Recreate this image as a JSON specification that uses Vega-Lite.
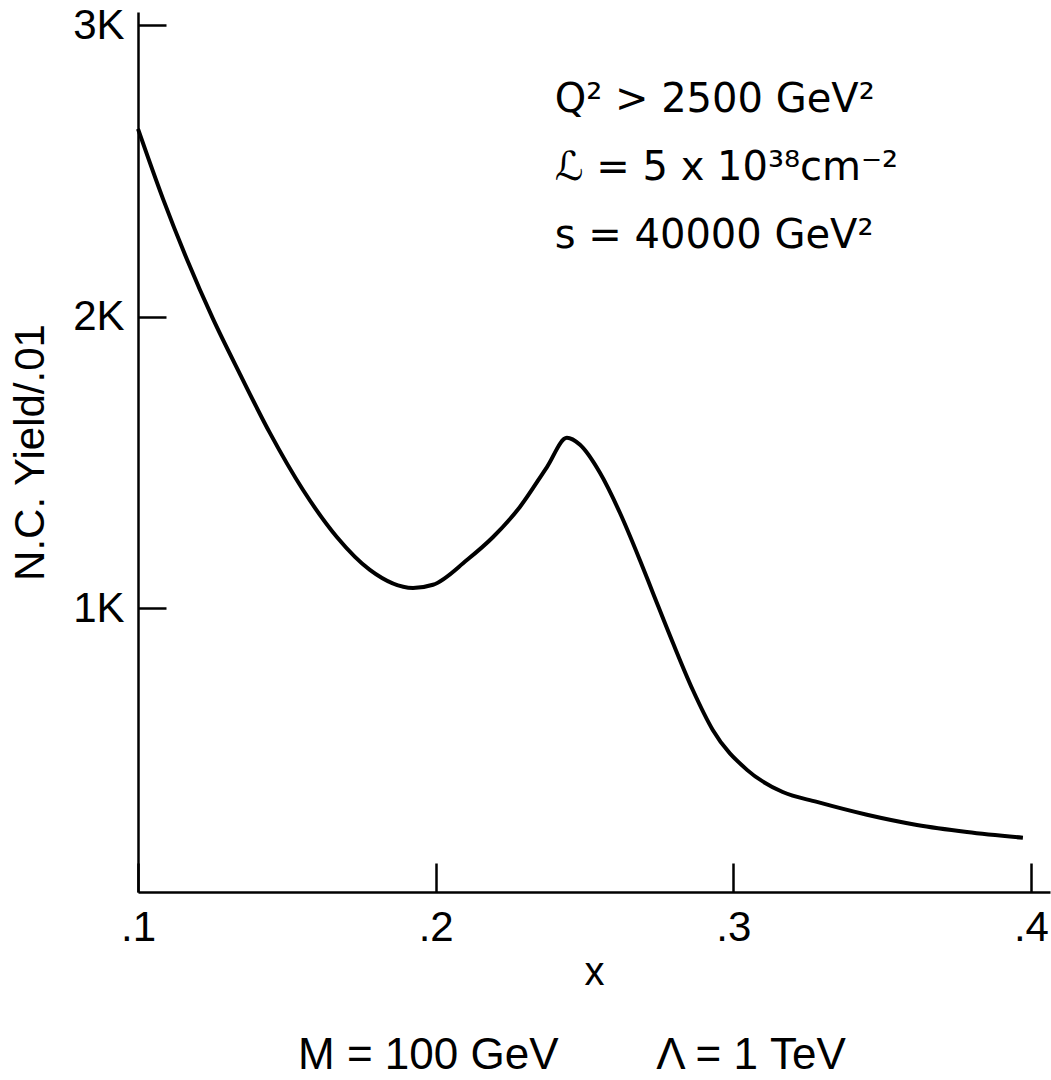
{
  "$schema": "https://vega.github.io/schema/vega-lite/v6.json",
  "width": 912,
  "height": 880,
  "autosize": {"type": "none"},
  "padding": {"left": 138, "top": 12, "right": 1, "bottom": 188},
  "background": "white",
  "config": {
    "view": {"stroke": null},
    "font": "Liberation Sans",
    "axis": {"grid": false, "domainColor": "black", "tickColor": "black", "labelColor": "black", "titleColor": "black", "domainWidth": 2.5, "tickWidth": 2.5, "labelFont": "Liberation Sans", "titleFont": "Liberation Sans", "titleFontWeight": "normal"}
  },
  "title": {
    "text": "M = 100 GeV\u00a0\u00a0\u00a0\u00a0\u00a0\u00a0\u00a0\u00a0Λ = 1 TeV",
    "orient": "bottom",
    "anchor": "middle",
    "fontSize": 44,
    "fontWeight": "normal",
    "font": "Liberation Sans",
    "color": "black",
    "offset": 42,
    "dx": -22
  },
  "datasets": {
    "curve": [
      {"x": 0.1, "y": 2645},
      {"x": 0.1084, "y": 2405},
      {"x": 0.1165, "y": 2196},
      {"x": 0.1252, "y": 1993},
      {"x": 0.1343, "y": 1803},
      {"x": 0.1443, "y": 1602},
      {"x": 0.1554, "y": 1407},
      {"x": 0.1668, "y": 1245},
      {"x": 0.1779, "y": 1132},
      {"x": 0.1924, "y": 1070},
      {"x": 0.1991, "y": 1081},
      {"x": 0.2105, "y": 1166},
      {"x": 0.2193, "y": 1245},
      {"x": 0.2283, "y": 1348},
      {"x": 0.2374, "y": 1485},
      {"x": 0.2441, "y": 1585},
      {"x": 0.2485, "y": 1561},
      {"x": 0.2552, "y": 1465},
      {"x": 0.2619, "y": 1328},
      {"x": 0.2686, "y": 1166},
      {"x": 0.273, "y": 1053},
      {"x": 0.2797, "y": 882},
      {"x": 0.2864, "y": 720},
      {"x": 0.2931, "y": 583},
      {"x": 0.3046, "y": 446},
      {"x": 0.3166, "y": 370},
      {"x": 0.3281, "y": 336},
      {"x": 0.3449, "y": 292},
      {"x": 0.3617, "y": 257},
      {"x": 0.3785, "y": 233},
      {"x": 0.3973, "y": 213}
    ],
    "notes": [
      {"x": 0.24, "y": 2703, "label": "Q² > 2500 GeV²\nℒ = 5 x 10³⁸cm⁻²\ns = 40000 GeV²"}
    ]
  },
  "layer": [
    {
      "data": {"name": "curve"},
      "mark": {"type": "line", "color": "black", "strokeWidth": 4, "interpolate": "monotone"},
      "encoding": {
        "x": {
          "field": "x", "type": "quantitative",
          "scale": {"domain": [0.1, 0.4064], "nice": false, "zero": false},
          "axis": {
            "values": [0.1, 0.2, 0.3, 0.4],
            "tickSize": -29,
            "labelPadding": 44,
            "labelFlush": false,
            "labelFontSize": 42,
            "labelExpr": "replace(format(datum.value, '.1f'), '0.', '.')",
            "title": "x",
            "titleFontSize": 40,
            "titlePadding": 4
          }
        },
        "y": {
          "field": "y", "type": "quantitative",
          "scale": {"domain": [27, 3046], "nice": false, "zero": false},
          "axis": {
            "values": [1000, 2000, 3000],
            "tickSize": -28,
            "labelPadding": 42,
            "labelFlush": false,
            "labelFontSize": 42,
            "labelExpr": "format(datum.value / 1000, 'd') + 'K'",
            "title": "N.C. Yield/.01",
            "titleFontSize": 42,
            "titlePadding": 20
          }
        }
      }
    },
    {
      "data": {"name": "notes"},
      "mark": {"type": "text", "align": "left", "baseline": "alphabetic", "fontSize": 40, "lineBreak": "\n", "lineHeight": 68, "color": "black", "font": "DejaVu Sans"},
      "encoding": {
        "x": {"field": "x", "type": "quantitative"},
        "y": {"field": "y", "type": "quantitative"},
        "text": {"field": "label"}
      }
    }
  ]
}
